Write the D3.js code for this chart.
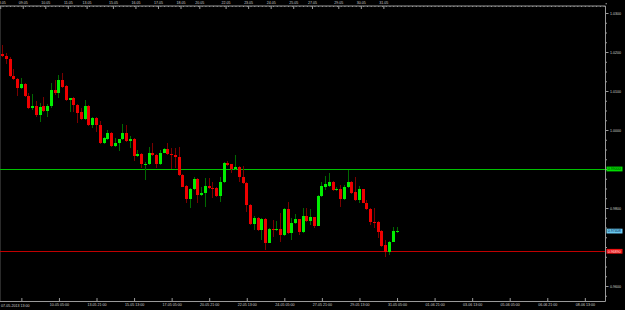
<!DOCTYPE html>
<html>
<head>
<meta charset="utf-8">
<style>
  body { margin: 0; background: #000; }
  text { font-family: "Liberation Sans", Arial, sans-serif; }
</style>
</head>
<body>
<svg id="chart" width="625" height="310"></svg>
<script src="https://cdn.jsdelivr.net/npm/d3@7"></script>
<script>
  // EURCHF-ish H4 bars
  const opens = [
    1.0195, 1.0191, 1.0183, 1.0138, 1.0130, 1.0108, 1.0119, 1.0087, 1.0056, 1.0062,
    1.0038, 1.0062, 1.0049, 1.0062, 1.0103, 1.0094, 1.0128, 1.0113, 1.0077, 1.0081,
    1.0064, 1.0047, 1.0028, 1.0062, 1.0013, 1.0032, 1.0013, 0.9966, 0.9977, 0.9992,
    0.9959, 0.9967, 0.9977, 0.9993, 0.9973, 0.9977, 0.9934, 0.9938, 0.9910, 0.9912,
    0.9942, 0.9936, 0.9912, 0.9942, 0.9951, 0.9938, 0.9935, 0.9930, 0.9885, 0.9856,
    0.9822, 0.9848, 0.9874, 0.9833, 0.9839, 0.9856, 0.9852, 0.9852, 0.9831, 0.9867,
    0.9916, 0.9912, 0.9900, 0.9906, 0.9879, 0.9865, 0.9808, 0.9759, 0.9774, 0.9744,
    0.9772, 0.9711, 0.9746, 0.9744, 0.9746, 0.9731, 0.9797, 0.9735, 0.9761, 0.9771,
    0.9739, 0.9779, 0.9767, 0.9776, 0.9755, 0.9831, 0.9855, 0.9856, 0.9867, 0.9846,
    0.9848, 0.9822, 0.9853, 0.9867, 0.9840, 0.9821, 0.9848, 0.9814, 0.9797, 0.9765,
    0.9765, 0.9741, 0.9705, 0.9688, 0.9714, 0.9738
  ]
  const highs = [
    1.0218, 1.0197, 1.0187, 1.0156, 1.0133, 1.0133, 1.0121, 1.0094, 1.0092, 1.0075,
    1.0070, 1.0085, 1.0066, 1.0120, 1.0128, 1.0141, 1.0145, 1.0115, 1.0083, 1.0085,
    1.0067, 1.0056, 1.0077, 1.0064, 1.0034, 1.0033, 1.0023, 0.9982, 1.0000, 0.9994,
    0.9979, 0.9978, 1.0015, 1.0013, 0.9985, 0.9979, 0.9949, 0.9941, 0.9919, 0.9956,
    0.9967, 0.9938, 0.9949, 0.9954, 0.9966, 0.9954, 0.9954, 0.9957, 0.9887, 0.9859,
    0.9851, 0.9880, 0.9877, 0.9855, 0.9876, 0.9876, 0.9867, 0.9854, 0.9880, 0.9918,
    0.9921, 0.9914, 0.9936, 0.9908, 0.9908, 0.9867, 0.9810, 0.9779, 0.9776, 0.9774,
    0.9774, 0.9749, 0.9769, 0.9767, 0.9787, 0.9800, 0.9816, 0.9774, 0.9785, 0.9773,
    0.9799, 0.9799, 0.9797, 0.9778, 0.9833, 0.9867, 0.9882, 0.9889, 0.9869, 0.9855,
    0.9859, 0.9859, 0.9897, 0.9869, 0.9880, 0.9856, 0.9850, 0.9821, 0.9799, 0.9799,
    0.9767, 0.9744, 0.9718, 0.9715, 0.9752, 0.9752
  ]
  const lows = [
    1.0188, 1.0169, 1.0136, 1.0128, 1.0087, 1.0106, 1.0085, 1.0054, 1.0051, 1.0033,
    1.0021, 1.0046, 1.0034, 1.0056, 1.0090, 1.0083, 1.0108, 1.0074, 1.0047, 1.0047,
    1.0019, 1.0026, 1.0026, 1.0010, 1.0004, 0.9996, 0.9964, 0.9963, 0.9974, 0.9956,
    0.9956, 0.9947, 0.9974, 0.9969, 0.9955, 0.9921, 0.9932, 0.9902, 0.9872, 0.9909,
    0.9933, 0.9902, 0.9910, 0.9940, 0.9936, 0.9899, 0.9903, 0.9882, 0.9853, 0.9813,
    0.9799, 0.9846, 0.9814, 0.9831, 0.9803, 0.9850, 0.9825, 0.9828, 0.9816, 0.9865,
    0.9908, 0.9891, 0.9897, 0.9867, 0.9862, 0.9791, 0.9756, 0.9744, 0.9741, 0.9718,
    0.9692, 0.9709, 0.9726, 0.9741, 0.9714, 0.9728, 0.9733, 0.9718, 0.9759, 0.9731,
    0.9737, 0.9764, 0.9756, 0.9748, 0.9753, 0.9828, 0.9846, 0.9854, 0.9844, 0.9844,
    0.9803, 0.9821, 0.9851, 0.9837, 0.9818, 0.9812, 0.9812, 0.9795, 0.9756, 0.9748,
    0.9722, 0.9701, 0.9675, 0.9679, 0.9712, 0.9736
  ]
  const closes = [
    1.0191, 1.0183, 1.0138, 1.0130, 1.0108, 1.0119, 1.0087, 1.0056, 1.0062, 1.0038,
    1.0060, 1.0049, 1.0062, 1.0103, 1.0094, 1.0128, 1.0111, 1.0077, 1.0081, 1.0064,
    1.0044, 1.0028, 1.0062, 1.0013, 1.0032, 1.0013, 0.9966, 0.9979, 0.9992, 0.9959,
    0.9967, 0.9977, 0.9993, 0.9972, 0.9977, 0.9934, 0.9938, 0.9912, 0.9913, 0.9942,
    0.9936, 0.9912, 0.9942, 0.9951, 0.9938, 0.9935, 0.9930, 0.9885, 0.9855, 0.9822,
    0.9848, 0.9874, 0.9833, 0.9839, 0.9856, 0.9852, 0.9851, 0.9831, 0.9867, 0.9916,
    0.9910, 0.9900, 0.9906, 0.9879, 0.9863, 0.9808, 0.9759, 0.9774, 0.9744, 0.9772,
    0.9711, 0.9746, 0.9744, 0.9746, 0.9731, 0.9797, 0.9735, 0.9761, 0.9771, 0.9739,
    0.9779, 0.9767, 0.9776, 0.9755, 0.9831, 0.9856, 0.9861, 0.9867, 0.9846, 0.9848,
    0.9822, 0.9855, 0.9867, 0.9839, 0.9821, 0.9848, 0.9814, 0.9797, 0.9765, 0.9762,
    0.9739, 0.9703, 0.9688, 0.9714, 0.9742, 0.97408
  ]

  const firstBarLabel = '07-05-2013 13:00'
  const timeTickBars = [5, 15, 25, 35, 45, 55, 65, 75, 85, 95, 105, 115, 125, 135, 145, 155]
  const timeTickLabels = ['', '10-05 05:00', '13-05 21:00', '15-05 13:00', '17-05 05:00', '20-05 21:00',
    '22-05 13:00', '24-05 05:00', '27-05 21:00', '29-05 13:00', '31-05 05:00', '01-06 21:00',
    '03-06 13:00', '05-06 05:00', '06-06 21:00', '08-06 13:00']
  const dayBars = [0, 6, 12, 18, 23, 30, 36, 42, 48, 53, 60, 66, 72, 78, 83, 90, 96, 102]
  const dayLabels = ['08.05', '09.05', '10.05', '11.05', '13.05', '15.05', '16.05', '17.05', '18.05',
    '20.05', '22.05', '23.05', '24.05', '25.05', '27.05', '29.05', '30.05', '31.05']
  const priceTicks = [1.03, 1.02, 1.01, 1.00, 0.98, 0.96]
  const resistance = 0.99
  const support = 0.9689
  const lastPrice = 0.97408

  const bars = opens.map((o, i) => ({ i, o, h: highs[i], l: lows[i], c: closes[i] }))

  const width = 625
  const height = 310
  const plotRight = 605.5
  const plotTop = 6
  const plotBottom = 301.5

  const svg = d3.select('#chart')
  svg.append('rect').attr('width', width).attr('height', height).attr('fill', '#000')

  // bar index -> px
  const x = d3.scaleLinear().domain([-0.69, 160.5]).range([0, plotRight])
  const y = d3.scaleLinear().domain([0.96, 1.03]).range([286, 13])

  const axisColor = '#9a9a9a'

  // faint left border
  svg.append('line')
    .attr('x1', 0.5).attr('x2', 0.5)
    .attr('y1', plotTop).attr('y2', plotBottom)
    .attr('stroke', '#2a2a2a')

  // horizontal levels
  svg.append('line')
    .attr('x1', 0).attr('x2', plotRight)
    .attr('y1', Math.round(y(resistance)) + 0.5).attr('y2', Math.round(y(resistance)) + 0.5)
    .attr('stroke', '#00c000').attr('stroke-width', 1)
  svg.append('line')
    .attr('x1', 0).attr('x2', plotRight)
    .attr('y1', Math.round(y(support)) + 0.5).attr('y2', Math.round(y(support)) + 0.5)
    .attr('stroke', '#c00000').attr('stroke-width', 1)

  // candles
  const g = svg.append('g').attr('shape-rendering', 'crispEdges')
  g.selectAll('line.wick')
    .data(bars)
    .enter().append('line')
    .attr('class', 'wick')
    .attr('x1', d => Math.floor(x(d.i)) + 0.5)
    .attr('x2', d => Math.floor(x(d.i)) + 0.5)
    .attr('y1', d => y(d.h))
    .attr('y2', d => y(d.l))
    .attr('stroke', d => d.c >= d.o ? '#006a00' : '#7a0000')

  g.selectAll('rect.body')
    .data(bars)
    .enter().append('rect')
    .attr('class', 'body')
    .attr('x', d => Math.floor(x(d.i)) - 1)
    .attr('width', 3)
    .attr('y', d => y(Math.max(d.o, d.c)))
    .attr('height', d => Math.max(1, y(Math.min(d.o, d.c)) - y(Math.max(d.o, d.c))))
    .attr('fill', d => d.c >= d.o ? '#00ee00' : '#ee0000')

  // right price axis
  const minorY = d3.range(0.9575, 1.0326, 0.0025)
  svg.append('g')
    .attr('transform', `translate(${plotRight},0)`)
    .call(d3.axisRight(y).tickValues(minorY).tickSize(1.5).tickFormat(''))
    .call(a => a.select('.domain').remove())
    .call(a => a.selectAll('line').attr('stroke', axisColor))
  const yAxis = svg.append('g')
    .attr('transform', `translate(${plotRight},0)`)
    .call(d3.axisRight(y).tickValues(priceTicks).tickSize(3).tickPadding(1.5).tickFormat(d3.format('.4f')))
  yAxis.select('.domain').remove()
  yAxis.selectAll('line').attr('stroke', axisColor)
  yAxis.selectAll('text').attr('fill', '#d0d0d0').attr('font-size', 3.6).attr('font-family', 'Liberation Sans')

  svg.append('line')
    .attr('x1', plotRight).attr('x2', plotRight)
    .attr('y1', plotTop).attr('y2', plotBottom)
    .attr('stroke', axisColor)

  // price boxes
  const boxes = [
    { v: resistance, fill: '#00dd00', text: '#003300', label: d3.format('.5f')(resistance) },
    { v: lastPrice, fill: '#6ac8f0', text: '#002040', label: d3.format('.5f')(lastPrice) },
    { v: support, fill: '#ee1111', text: '#ffe0e0', label: d3.format('.5f')(support) }
  ]
  const bx = svg.append('g').selectAll('g').data(boxes).enter().append('g')
    .attr('transform', d => `translate(${plotRight + 1},${y(d.v)})`)
  bx.append('rect').attr('x', 0).attr('y', -2.4).attr('width', 16).attr('height', 4.8).attr('fill', d => d.fill)
  bx.append('text').attr('x', 1.2).attr('y', 1.3).attr('font-size', 3.6).attr('fill', d => d.text).text(d => d.label)

  // bottom time axis
  const xAxis = svg.append('g')
    .attr('transform', `translate(0,${plotBottom})`)
  xAxis.call(d3.axisBottom(x).tickValues(d3.range(0, 161, 2)).tickSizeInner(-1.5).tickSizeOuter(0).tickFormat(''))
  xAxis.call(d3.axisBottom(x).tickValues(timeTickBars).tickSizeInner(-3.5).tickSizeOuter(0).tickPadding(2)
    .tickFormat((d, i) => timeTickLabels[i]))
  xAxis.select('.domain').attr('stroke', axisColor).attr('d', `M0,0H${plotRight}`)
  xAxis.selectAll('line').attr('stroke', axisColor)
  xAxis.selectAll('text').attr('fill', '#d0d0d0').attr('font-size', 3.6)
  svg.append('text')
    .attr('x', 1).attr('y', plotBottom + 5.5)
    .attr('font-size', 3.6).attr('fill', '#d0d0d0')
    .text(firstBarLabel)

  // top day separators
  const topY = 6
  const dayAxis = svg.append('g').attr('transform', `translate(0,${topY})`)
  dayAxis.call(d3.axisTop(x).tickValues(d3.range(0, 161, 1)).tickSizeInner(-1).tickSizeOuter(0).tickFormat(''))
  dayAxis.select('.domain').attr('stroke', axisColor).attr('d', `M0,0H${plotRight}`)
  dayAxis.selectAll('line').attr('stroke', axisColor)
  dayAxis.selectAll('.day')
    .data(dayBars)
    .enter().append('line')
    .attr('class', 'day')
    .attr('x1', d => Math.max(0.5, x(d - 0.5))).attr('x2', d => Math.max(0.5, x(d - 0.5)))
    .attr('y1', 0).attr('y2', 3)
    .attr('stroke', axisColor)
  dayAxis.selectAll('.dlab')
    .data(dayBars)
    .enter().append('text')
    .attr('class', 'dlab')
    .attr('x', d => Math.max(1.2, x(d - 0.5)))
    .attr('y', -1.6)
    .attr('font-size', 3.6)
    .attr('fill', '#d0d0d0')
    .text((d, i) => dayLabels[i])
</script>
</body>
</html>
